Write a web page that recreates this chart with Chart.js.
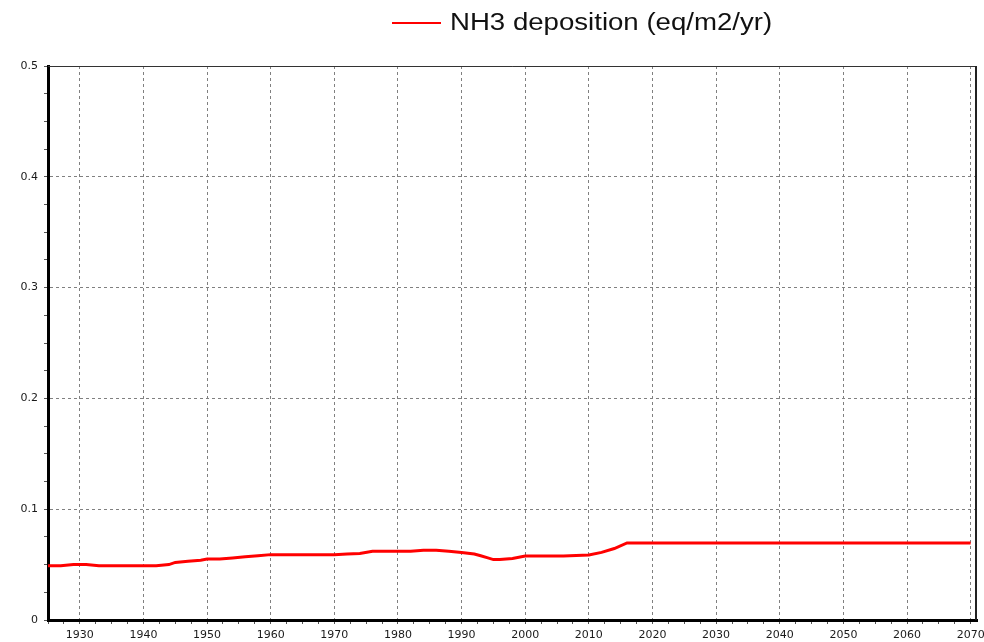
<!DOCTYPE html>
<html>
<head>
<meta charset="utf-8">
<title>NH3 deposition</title>
<script src="https://cdn.jsdelivr.net/npm/chart.js@4/dist/chart.umd.min.js"></script>
<style>
  html, body { margin: 0; padding: 0; background: #ffffff; }
  #wrap { position: relative; width: 984px; height: 642px; background: #ffffff; }
  #legend { position: absolute; left: 392px; top: 11px; height: 23px; white-space: nowrap; }
  #legend .swatch { position: absolute; left: 0; top: 11px; width: 49px; height: 2px; background: #ff0000; }
  #legend .text {
    position: absolute; left: 58px; top: 0;
    font-family: "Liberation Sans", Arial, sans-serif; font-size: 23px; line-height: 23px;
    color: #111111; transform: scaleX(1.2); transform-origin: left center;
  }
  canvas { position: absolute; left: 0; top: 0; }
</style>
</head>
<body>
<div id="wrap">
  <canvas id="chart" width="984" height="642"></canvas>
  <div id="legend"><span class="swatch"></span><span class="text"></span></div>
</div>
<script>
// Series: NH3 deposition, eq/m2/yr
const seriesLabel = "NH3 deposition (eq/m2/yr)";
const years = [
  1925, 1927, 1929, 1931, 1933, 1942, 1944, 1945, 1947, 1949,
  1950, 1952, 1954, 1956, 1958, 1960, 1970, 1972, 1974, 1976,
  1982, 1984, 1986, 1988, 1990, 1992, 1993, 1994, 1995, 1996,
  1998, 2000, 2006, 2010, 2012, 2014, 2016, 2020, 2030, 2040,
  2050, 2060, 2070
];
const deposition = [
  0.049, 0.049, 0.050, 0.050, 0.049, 0.049, 0.050, 0.052, 0.053, 0.054,
  0.055, 0.055, 0.056, 0.057, 0.058, 0.059, 0.059, 0.0595, 0.060, 0.062,
  0.062, 0.063, 0.063, 0.062, 0.061, 0.0595, 0.058, 0.0563, 0.0545, 0.0545,
  0.0556, 0.0578, 0.0578, 0.0587, 0.061, 0.0645, 0.0695, 0.0695, 0.0695, 0.0695,
  0.0695, 0.0695, 0.0695
];

// Axis ranges and tick spacing
const xMin = 1925, xMax = 2071, xMajorStep = 10, xMinorStep = 2.5;
const yMin = 0, yMax = 0.5, yMajorStep = 0.1, yMinorStep = 0.025;

document.querySelector('#legend .text').textContent = seriesLabel;

function isMultiple(v, step) {
  const q = v / step;
  return Math.abs(q - Math.round(q)) < 1e-6;
}
function tickList(min, max, step) {
  const out = [];
  const n = Math.floor((max - min) / step + 1e-9);
  for (let i = 0; i <= n; i++) out.push({ value: +(min + i * step).toFixed(6) });
  return out;
}

const gridGray = '#808080';
const tickGray = '#555555';

// Thin frame along the top and right edges of the plot
const frame = {
  id: 'frame',
  afterDraw(chart) {
    const { ctx, chartArea: a } = chart;
    ctx.save();
    ctx.strokeStyle = '#333333';
    ctx.lineWidth = 1;
    ctx.beginPath();
    ctx.moveTo(a.left, a.top + 0.5);
    ctx.lineTo(a.right, a.top + 0.5);
    ctx.stroke();
    ctx.lineWidth = 2;
    ctx.strokeStyle = '#222222';
    ctx.beginPath();
    ctx.moveTo(a.right - 1, a.top);
    ctx.lineTo(a.right - 1, a.bottom);
    ctx.stroke();
    ctx.restore();
  }
};

new Chart(document.getElementById('chart'), {
  type: 'line',
  data: {
    datasets: [{
      label: seriesLabel,
      data: years.map((y, i) => ({ x: y, y: deposition[i] })),
      borderColor: '#ff0000',
      borderWidth: 3,
      pointRadius: 0,
      tension: 0,
      fill: false
    }]
  },
  options: {
    responsive: false,
    animation: false,
    layout: { padding: { left: 0, right: 7, top: 66, bottom: 0 } },
    plugins: { legend: { display: false }, tooltip: { enabled: false } },
    scales: {
      x: {
        type: 'linear',
        min: xMin,
        max: xMax,
        afterBuildTicks(scale) { scale.ticks = tickList(1925, 2070, xMinorStep); },
        afterFit(scale) {
          scale.height = 22;
          scale.paddingLeft = 0;
          scale.paddingRight = 0;
        },
        ticks: {
          autoSkip: false,
          maxRotation: 0,
          padding: 5,
          color: '#1a1a1a',
          font: { family: 'DejaVu Sans', size: 11 },
          callback: v => isMultiple(v, xMajorStep) ? String(Math.round(v)) : ''
        },
        grid: {
          color: c => (c.tick && isMultiple(c.tick.value, xMajorStep)) ? gridGray : 'rgba(0,0,0,0)',
          lineWidth: 1,
          borderDash: [3, 3],
          tickLength: 4,
          tickColor: tickGray,
          tickBorderDash: []
        },
        border: { display: true, color: '#000000', width: 3, dash: [3, 3] }
      },
      y: {
        type: 'linear',
        min: yMin,
        max: yMax,
        afterBuildTicks(scale) { scale.ticks = tickList(yMin, yMax, yMinorStep); },
        afterFit(scale) {
          scale.width = 48;
          scale.paddingTop = 0;
          scale.paddingBottom = 0;
        },
        ticks: {
          autoSkip: false,
          padding: 6,
          color: '#1a1a1a',
          font: { family: 'DejaVu Sans', size: 11 },
          callback: v => isMultiple(v, yMajorStep) ? String(Math.round(v * 10) / 10) : ''
        },
        grid: {
          color: c => (c.tick && isMultiple(c.tick.value, yMajorStep)) ? gridGray : 'rgba(0,0,0,0)',
          lineWidth: 1,
          borderDash: [3, 3],
          tickLength: 4,
          tickColor: tickGray,
          tickBorderDash: []
        },
        border: { display: true, color: '#000000', width: 3, dash: [3, 3] }
      }
    }
  },
  plugins: [frame]
});
</script>
</body>
</html>
